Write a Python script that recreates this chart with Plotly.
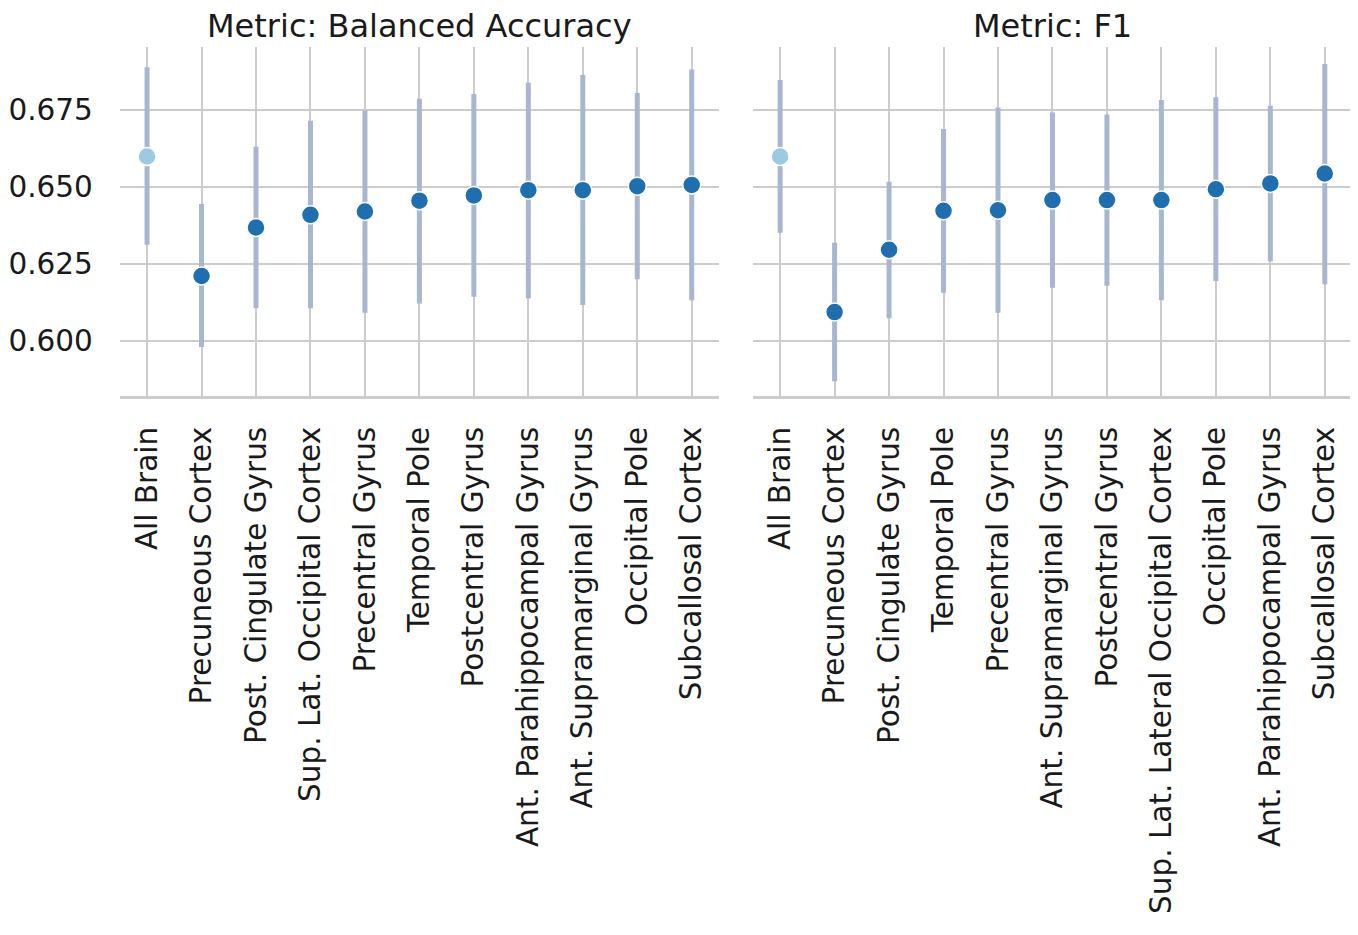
import plotly.graph_objects as go

# --- data --------------------------------------------------------------------
BA_REGIONS = [
    "All Brain", "Precuneous Cortex", "Post. Cingulate Gyrus",
    "Sup. Lat. Occipital Cortex", "Precentral Gyrus", "Temporal Pole",
    "Postcentral Gyrus", "Ant. Parahippocampal Gyrus",
    "Ant. Supramarginal Gyrus", "Occipital Pole", "Subcallosal Cortex",
]
BA_MEAN = [0.6598, 0.6211, 0.6368, 0.6409, 0.6420, 0.6455, 0.6472, 0.6489, 0.6489, 0.6502, 0.6506]
BA_LOW = [0.6312, 0.5981, 0.6106, 0.6106, 0.6092, 0.6122, 0.6144, 0.6139, 0.6117, 0.6200, 0.6132]
BA_HIGH = [0.6887, 0.6444, 0.6630, 0.6714, 0.6747, 0.6785, 0.6801, 0.6837, 0.6862, 0.6804, 0.6880]

F1_REGIONS = [
    "All Brain", "Precuneous Cortex", "Post. Cingulate Gyrus", "Temporal Pole",
    "Precentral Gyrus", "Ant. Supramarginal Gyrus", "Postcentral Gyrus",
    "Sup. Lat. Lateral Occipital Cortex", "Occipital Pole",
    "Ant. Parahippocampal Gyrus", "Subcallosal Cortex",
]
F1_MEAN = [0.6598, 0.6094, 0.6296, 0.6422, 0.6424, 0.6457, 0.6457, 0.6457, 0.6492, 0.6511, 0.6543]
F1_LOW = [0.6351, 0.5870, 0.6074, 0.6157, 0.6092, 0.6173, 0.6179, 0.6132, 0.6195, 0.6258, 0.6184]
F1_HIGH = [0.6846, 0.6319, 0.6516, 0.6687, 0.6757, 0.6741, 0.6734, 0.6781, 0.6790, 0.6763, 0.6898]

Y_TICKS = [0.600, 0.625, 0.650, 0.675]
PANEL_TITLES = ["Metric: Balanced Accuracy", "Metric: F1"]

# --- style -------------------------------------------------------------------
W, H = 1358, 935
OFF = 8              # page body margin around the plot div
FONT = "DejaVu Sans"
TEXT = "#1a1a1a"
GRID = "#cccccc"
ERR = "#a9b6cf"
DOT = "#1f6fb0"
DOT_BASE = "#9ecae1"
Y_RANGE = [0.5822, 0.6953]


def px_x(p):
    return (p - OFF) / W


def px_y(p):
    return 1 - (p - OFF) / H


fig = go.Figure()

panels = [
    (BA_REGIONS, BA_MEAN, BA_LOW, BA_HIGH, (118, 718)),
    (F1_REGIONS, F1_MEAN, F1_LOW, F1_HIGH, (752, 1352)),
]

for i, (cats, mean, low, high, (x0, x1)) in enumerate(panels):
    suffix = "" if i == 0 else "2"
    colors = [DOT_BASE] + [DOT] * (len(cats) - 1)
    fig.add_trace(go.Scatter(
        x=cats, y=mean,
        mode="markers",
        xaxis=f"x{suffix}", yaxis=f"y{suffix}",
        marker=dict(color=colors, size=18, line=dict(color="white", width=1.5)),
        error_y=dict(
            type="data", symmetric=False,
            array=[h - m for h, m in zip(high, mean)],
            arrayminus=[m - l for m, l in zip(mean, low)],
            color=ERR, thickness=5, width=0,
        ),
        showlegend=False,
    ))

    fig.update_layout({
        f"xaxis{suffix}": dict(
            domain=[px_x(x0), px_x(x1)],
            anchor=f"y{suffix}",
            type="category",
            categoryorder="array", categoryarray=cats,
            range=[-0.5, len(cats) - 0.5],
            tickangle=-90,
            tickfont=dict(family=FONT, size=29.5, color=TEXT),
            showgrid=True, gridcolor=GRID, gridwidth=2,
            showline=True, linecolor=GRID, linewidth=3,
            ticks="", ticklabelstandoff=16,
            zeroline=False, fixedrange=True,
        ),
        f"yaxis{suffix}": dict(
            domain=[px_y(396), px_y(47)],
            anchor=f"x{suffix}",
            range=Y_RANGE,
            tickvals=Y_TICKS,
            ticktext=[f"{v:.3f}" for v in Y_TICKS],
            showticklabels=(i == 0),
            tickfont=dict(family=FONT, size=29.5, color=TEXT),
            showgrid=True, gridcolor=GRID, gridwidth=2,
            showline=False, zeroline=False, ticks="",
            ticklabelstandoff=26,
            fixedrange=True,
        ),
    })

    # panel title (kept just inside the page top so it is not clipped)
    fig.add_annotation(
        text=PANEL_TITLES[i],
        x=(px_x(x0) + px_x(x1)) / 2, y=px_y(26),
        xref="paper", yref="paper",
        xanchor="center", yanchor="middle",
        showarrow=False,
        font=dict(family=FONT, size=32, color=TEXT),
    )

fig.update_layout(
    width=W, height=H,
    margin=dict(l=0, r=0, t=0, b=0),
    paper_bgcolor="white",
    plot_bgcolor="white",
    font=dict(family=FONT, color=TEXT),
)

fig.write_html("out.html")
